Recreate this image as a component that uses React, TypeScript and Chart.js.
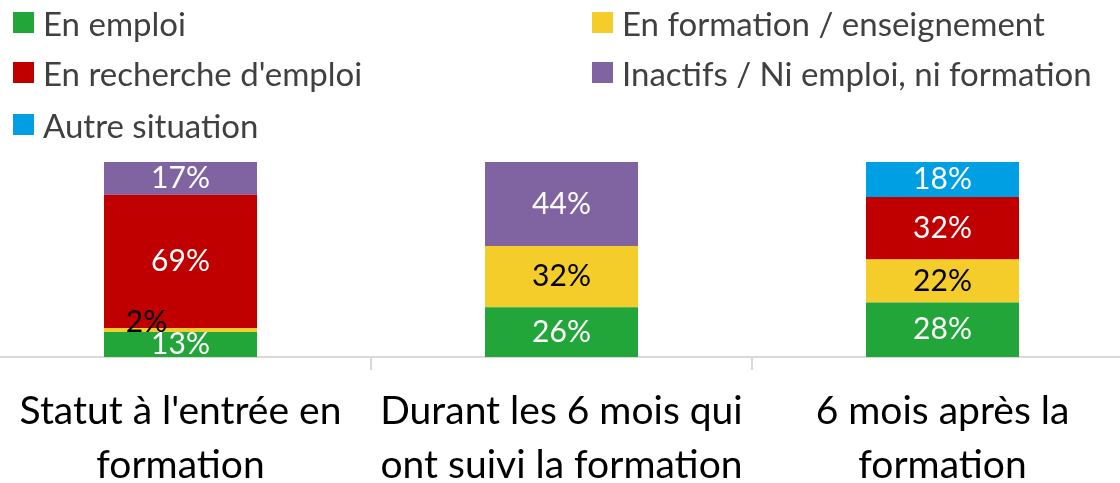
import React, { useEffect, useRef } from "react";
import { Chart, registerables } from "chart.js";

Chart.register(...registerables);

const categories: string[][] = [
  ["Statut à l'entrée en", "formation"],
  ["Durant les 6 mois qui", "ont suivi la formation"],
  ["6 mois après la", "formation"],
];

const seriesNames = [
  "En emploi",
  "En formation / enseignement",
  "En recherche d'emploi",
  "Inactifs / Ni emploi, ni formation",
  "Autre situation",
];

const enEmploi = [13, 26, 28];
const enFormation = [2, 32, 22];
const enRecherche = [69, null, 32];
const inactifs = [17, 44, null];
const autre = [null, null, 18];

const colors = ["#23A639", "#F4CD2A", "#C00000", "#8064A2", "#009FE3"];
const labelColors = ["#FFFFFF", "#000000", "#FFFFFF", "#FFFFFF", "#FFFFFF"];

const FONT = "Lato, 'Open Sans', sans-serif";

const allSeries: (number | null)[][] = [enEmploi, enFormation, enRecherche, inactifs, autre];

const totals = categories.map((_, i) =>
  allSeries.reduce((s, arr) => s + (arr[i] ?? 0), 0)
);

const labelPlugin = {
  id: "segLabels",
  afterDatasetsDraw(chart: any) {
    const ctx = chart.ctx;
    ctx.save();
    ctx.font = `30px ${FONT}`;
    ctx.textAlign = "center";
    ctx.textBaseline = "middle";
    chart.data.datasets.forEach((ds: any, di: number) => {
      const meta = chart.getDatasetMeta(di);
      meta.data.forEach((el: any, i: number) => {
        const raw = allSeries[di][i];
        if (raw === null || raw === undefined) return;
        const props = el.getProps(["x", "y", "base"], true);
        let x = props.x;
        let y = (props.y + props.base) / 2;
        const h = Math.abs(props.base - props.y);
        if (h < 10) {
          x -= 34;
          y -= 8;
        }
        ctx.fillStyle = labelColors[di];
        ctx.fillText(`${raw}%`, x, y);
      });
    });
    ctx.restore();
  },
};

export default function App() {
  const ref = useRef<HTMLCanvasElement>(null);
  useEffect(() => {
    if (!ref.current) return;
    const chart = new Chart(ref.current, {
      type: "bar",
      data: {
        labels: categories,
        datasets: allSeries.map((arr, di) => ({
          label: seriesNames[di],
          data: arr.map((v, i) => (v === null ? null : (v / totals[i]) * 100)),
          backgroundColor: colors[di],
          borderWidth: 0,
          categoryPercentage: 0.4016,
          barPercentage: 1,
        })),
      },
      options: {
        animation: false,
        responsive: true,
        maintainAspectRatio: false,
        layout: { padding: { top: 162, left: 0, right: 0, bottom: 0 } },
        plugins: {
          legend: { display: false },
          tooltip: { enabled: false },
        },
        scales: {
          x: {
            stacked: true,
            offset: true,
            grid: {
              offset: true,
              drawOnChartArea: false,
              drawTicks: true,
              tickLength: 13,
              color: "#D9D9D9",
              lineWidth: 2,
            },
            border: { display: true, color: "#D9D9D9", width: 2 },
            ticks: {
              color: "#000000",
              padding: 14,
              maxRotation: 0,
              autoSkip: false,
              font: { family: FONT, size: 39, lineHeight: 54 / 39 },
            },
            afterFit: (scale: any) => {
              scale.height = 126;
            },
          },
          y: {
            stacked: true,
            display: false,
            min: 0,
            max: 100,
          },
        },
      },
      plugins: [labelPlugin],
    });
    return () => chart.destroy();
  }, []);

  const legendPos = [
    { left: 13, top: 12 },
    { left: 592, top: 12 },
    { left: 13, top: 62 },
    { left: 592, top: 62 },
    { left: 13, top: 114 },
  ];

  return (
    <div
      style={{
        position: "fixed",
        left: 0,
        top: 0,
        width: 1120,
        height: 483,
        overflow: "hidden",
        background: "#FFFFFF",
      }}
    >
      <div style={{ position: "absolute", left: -10, top: 0, width: 1143, height: 483 }}>
        <canvas ref={ref} />
      </div>
      {seriesNames.map((name, i) => (
        <div
          key={name}
          style={{
            position: "absolute",
            left: legendPos[i].left,
            top: legendPos[i].top,
            height: 21,
            display: "flex",
            alignItems: "center",
            whiteSpace: "nowrap",
            fontFamily: FONT,
            fontSize: 33,
            color: "#404040",
          }}
        >
          <span
            style={{
              display: "inline-block",
              width: 21,
              height: 21,
              background: colors[i],
              marginRight: 9,
              flexShrink: 0,
            }}
          />
          <span>{name}</span>
        </div>
      ))}
    </div>
  );
}
